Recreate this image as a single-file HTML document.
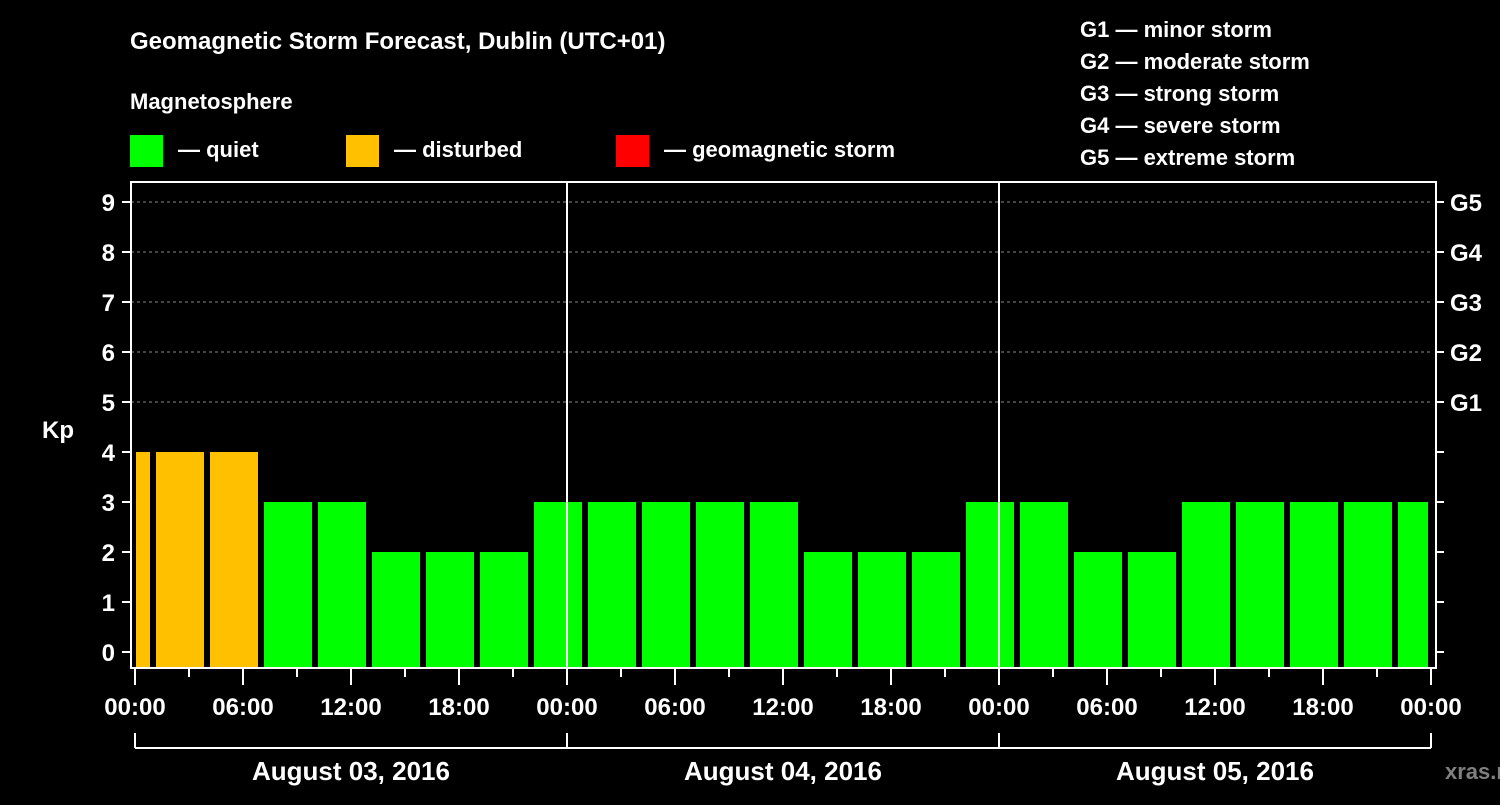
<!DOCTYPE html>
<html><head><meta charset="utf-8"><style>
body{margin:0;background:#000;width:1500px;height:800px;overflow:hidden}
svg text{font-family:"Liberation Sans",Arial,sans-serif;font-weight:bold;fill:#fff}
</style></head><body>
<svg id="c" width="1500" height="800">
<text x="130" y="49" font-size="24">Geomagnetic Storm Forecast, Dublin (UTC+01)</text>
<text x="130" y="109" font-size="22">Magnetosphere</text>
<rect x="130" y="135" width="33" height="32" fill="#00ff00"/>
<text x="178" y="157" font-size="22">— quiet</text>
<rect x="346" y="135" width="33" height="32" fill="#ffc000"/>
<text x="394" y="157" font-size="22">— disturbed</text>
<rect x="616" y="135" width="33" height="32" fill="#ff0000"/>
<text x="664" y="157" font-size="22">— geomagnetic storm</text>
<g font-size="22">
<text x="1080" y="37">G1 — minor storm</text>
<text x="1080" y="69">G2 — moderate storm</text>
<text x="1080" y="101">G3 — strong storm</text>
<text x="1080" y="133">G4 — severe storm</text>
<text x="1080" y="165">G5 — extreme storm</text>
</g>
<text x="42" y="438" font-size="24">Kp</text>
<text x="1445" y="779" font-size="22" fill="#888" style="fill:#7f7f7f">xras.ru</text>
<g id="g"></g>
</svg>
<script>
const values=[4,4,4,3,3,2,2,2,3,3,3,3,3,2,2,2,3,3,2,2,3,3,3,3,3];
const yTicks=[0,1,2,3,4,5,6,7,8,9];
const gLabels=["G1","G2","G3","G4","G5"];
const timeLabels=["00:00","06:00","12:00","18:00"];
const dates=["August 03, 2016","August 04, 2016","August 05, 2016"];
const X0=135,PH=18,YB=652,PU=50,L=131,R=1430,T=182,B=668;
const x=h=>X0+h*PH, y=v=>YB-v*PU;
const g=document.getElementById('g'),NS='http://www.w3.org/2000/svg';
function mk(t,a){const e=document.createElementNS(NS,t);for(const k in a)e.setAttribute(k,a[k]);g.appendChild(e);return e;}
// grid
for(let v=5;v<=9;v++){const e=mk('line',{x1:L,x2:R,y1:y(v),y2:y(v),stroke:'#888','stroke-dasharray':'3,3'});

}
// bars: bin i covers local hours -2+3i .. 1+3i
values.forEach((v,i)=>{let s=x(-2+3*i)+3,e=x(1+3*i)-3;s=Math.max(s,L+5);e=Math.min(e,R-2);
const r=mk('rect',{x:s,y:y(v),width:e-s,height:B-y(v),fill:v>=5?'#ff0000':v>=4?'#ffc000':'#00ff00'});

});
// day lines
[1,2].forEach(d=>{const e=mk('line',{x1:x(24*d),x2:x(24*d),y1:T,y2:B,stroke:'#fff','stroke-width':2});

});
// axes frame
const f=mk('rect',{x:L,y:T,width:R-L+6,height:B-T,fill:'none',stroke:'#fff','stroke-width':2});


yTicks.forEach(v=>{mk('line',{x1:122,x2:L,y1:y(v),y2:y(v),stroke:'#fff','stroke-width':2});
mk('line',{x1:R+6,x2:R+14,y1:y(v),y2:y(v),stroke:'#fff','stroke-width':2});
const t=mk('text',{x:115,y:y(v)+9,'font-size':24,'text-anchor':'end'});t.textContent=v;

});
gLabels.forEach((s,i)=>{const t=mk('text',{x:1450,y:y(5+i)+9,'font-size':24});t.textContent=s;

});
// x ticks
for(let h=0;h<=72;h+=3){const big=h%6==0;mk('line',{x1:x(h),x2:x(h),y1:B,y2:big?685:677,stroke:'#fff','stroke-width':2});}
for(let h=0;h<=72;h+=6){const t=mk('text',{x:x(h),y:715,'font-size':24,'text-anchor':'middle'});t.textContent=timeLabels[(h/6)%4];

}
mk('line',{x1:x(0),x2:x(72),y1:748,y2:748,stroke:'#fff','stroke-width':2});
for(let d=0;d<=3;d++)mk('line',{x1:x(24*d),x2:x(24*d),y1:733,y2:748,stroke:'#fff','stroke-width':2});
dates.forEach((s,i)=>{const t=mk('text',{x:x(24*i+12),y:780,'font-size':26,'text-anchor':'middle'});t.textContent=s;

});
</script>
</body></html>
